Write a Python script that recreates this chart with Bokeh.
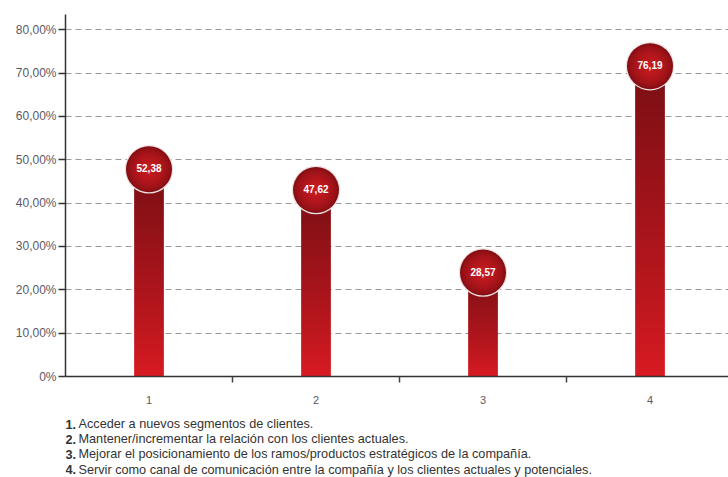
import numpy as np
from bokeh.plotting import figure
from bokeh.layouts import column
from bokeh.models import FixedTicker, ColumnDataSource, Range1d
from bokeh.embed import file_html
from bokeh.resources import INLINE
from bokeh.core.properties import value

# ---------------- data ----------------
categories = [1, 2, 3, 4]
category_labels = ["1", "2", "3", "4"]
values = [52.38, 47.62, 28.57, 76.19]
value_labels = ["52,38", "47,62", "28,57", "76,19"]
y_ticks = [0, 10, 20, 30, 40, 50, 60, 70, 80]
y_tick_labels = ["0%", "10,00%", "20,00%", "30,00%", "40,00%", "50,00%", "60,00%", "70,00%", "80,00%"]
note_numbers = ["1.", "2.", "3.", "4."]
note_texts = [
    "Acceder a nuevos segmentos de clientes.",
    "Mantener/incrementar la relación con los clientes actuales.",
    "Mejorar el posicionamiento de los ramos/productos estratégicos de la compañía.",
    "Servir como canal de comunicación entre la compañía y los clientes actuales y potenciales.",
]

# ---------------- style ----------------
FONT = "Liberation Sans"
BAR_W = 0.178
BUBBLE_DROP = 4.6          # bubble centre sits slightly below the value
BOTTOM_RGB = np.array([218, 26, 34])
TOP_RGB = np.array([122, 15, 20])
EDGE_RGB = np.array([130, 14, 19])
CENTER_RGB = np.array([206, 28, 34])


def hexc(rgb):
    r, g, b = [int(round(c)) for c in rgb]
    return "#%02x%02x%02x" % (r, g, b)


p = figure(width=728, height=410, output_backend="svg", toolbar_location=None,
           x_range=Range1d(0.5, 4.47), y_range=Range1d(0, 83.5),
           min_border_left=65, min_border_right=0, min_border_top=14, min_border_bottom=34)
p.outline_line_color = None
p.background_fill_color = "white"
p.border_fill_color = "white"

# gradient bars as vertical RGBA images
NROW = 120
grad = np.zeros((NROW, 1), dtype=np.uint32)
view = grad.view(dtype=np.uint8).reshape((NROW, 1, 4))
for i in range(NROW):
    f = (i / (NROW - 1)) ** 0.85
    rgb = BOTTOM_RGB + (TOP_RGB - BOTTOM_RGB) * f
    view[i, 0, 0:3] = np.round(rgb).astype(np.uint8)
    view[i, 0, 3] = 255
tops = [v - BUBBLE_DROP for v in values]
p.image_rgba(image=[grad] * len(categories),
             x=[c - BAR_W / 2 for c in categories], y=[0] * len(categories),
             dw=[BAR_W] * len(categories), dh=tops)

# bubbles with radial shading
by = tops
p.scatter(x=categories, y=by, size=48.5, marker="circle", fill_color="#eddfe0", line_color=None)
sizes = np.linspace(46, 4, 18)
for s in sizes:
    f = 1 - s / 46
    col = hexc(EDGE_RGB + (CENTER_RGB - EDGE_RGB) * f ** 0.6)
    p.scatter(x=categories, y=by, size=s, marker="circle", fill_color=col, line_color=None)

src = ColumnDataSource(dict(x=categories, y=by, t=value_labels))
p.text(x="x", y="y", text="t", source=src, text_color="white", text_font=value(FONT),
       text_font_size="10px", text_font_style="bold", text_align="center",
       text_baseline="middle", y_offset=-1)

# grid
p.xgrid.grid_line_color = None
p.ygrid.ticker = FixedTicker(ticks=y_ticks[1:])
p.ygrid.grid_line_color = "#9a9a9a"
p.ygrid.grid_line_dash = "6 4"
p.ygrid.grid_line_width = 1

# y axis
p.yaxis.ticker = FixedTicker(ticks=y_ticks)
p.yaxis.major_label_overrides = {tk: lb for tk, lb in zip(y_ticks, y_tick_labels)}
p.yaxis.major_tick_out = 7
p.yaxis.major_tick_in = 0
p.yaxis.minor_tick_out = 0
p.yaxis.minor_tick_in = 0
p.yaxis.major_label_standoff = 2
p.yaxis.major_label_text_font = FONT
p.yaxis.major_label_text_font_size = "12px"
p.yaxis.major_label_text_color = "#5a5a66"
p.yaxis.axis_line_color = "#333333"
p.yaxis.axis_line_width = 1.5
p.yaxis.major_tick_line_color = "#333333"
p.yaxis.major_tick_line_width = 1.5

# x axis
p.xaxis.ticker = FixedTicker(ticks=categories, minor_ticks=[c + 0.5 for c in categories])
p.xaxis.major_label_overrides = {c: lb for c, lb in zip(categories, category_labels)}
p.xaxis.major_tick_out = 0
p.xaxis.major_tick_in = 0
p.xaxis.minor_tick_out = 6
p.xaxis.minor_tick_in = 0
p.xaxis.minor_tick_line_color = "#444444"
p.xaxis.minor_tick_line_width = 1.5
p.xaxis.major_label_standoff = 13
p.xaxis.major_label_text_font = FONT
p.xaxis.major_label_text_font_size = "11px"
p.xaxis.major_label_text_color = "#5a5a66"
p.xaxis.axis_line_color = "#333333"
p.xaxis.axis_line_width = 1.5

# footnotes in a second, axis-less figure (pixel-like coordinates, y downwards)
n = figure(width=728, height=67, output_backend="svg", toolbar_location=None,
           x_range=Range1d(65, 728), y_range=Range1d(67, 0),
           min_border_left=65, min_border_right=0, min_border_top=0, min_border_bottom=0,
           x_axis_type=None, y_axis_type=None)
n.outline_line_color = None
n.xgrid.visible = False
n.ygrid.visible = False
note_y = [13.7, 28.5, 43.8, 59.0]
nsrc = ColumnDataSource(dict(x=[65] * 4, y=note_y, num=note_numbers, txt=note_texts))
n.text(x="x", y="y", text="num", source=nsrc, text_font=value(FONT), text_font_size="12.7px",
       text_font_style="bold", text_color="#333333", text_baseline="middle")
n.text(x="x", y="y", text="txt", source=nsrc, x_offset=13, text_font=value(FONT),
       text_font_size="12.7px", text_color="#333333", text_baseline="middle")

layout = column(p, n, spacing=0)
open("out.html", "w").write(file_html(layout, INLINE))
